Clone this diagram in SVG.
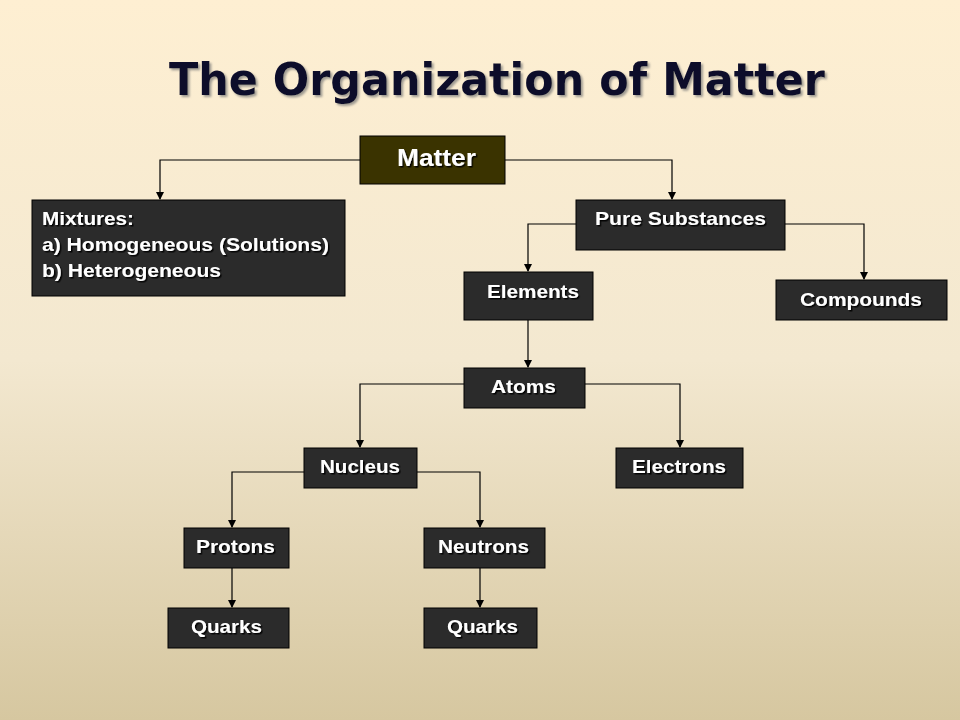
<svg xmlns="http://www.w3.org/2000/svg" width="960" height="720" viewBox="0 0 960 720">
<defs>
<linearGradient id="bg" x1="0" y1="0" x2="0" y2="1">
<stop offset="0" stop-color="#FEEFD2"/>
<stop offset="0.5" stop-color="#F3E8D0"/>
<stop offset="1" stop-color="#D6C7A0"/>
</linearGradient>
<filter id="ts" x="-10%" y="-30%" width="130%" height="170%">
<feDropShadow dx="1.5" dy="1.5" stdDeviation="0.6" flood-color="#000" flood-opacity="0.9"/>
</filter>
<filter id="tts" x="-5%" y="-30%" width="110%" height="170%">
<feDropShadow dx="2" dy="2" stdDeviation="1.2" flood-color="#777" flood-opacity="0.7"/>
</filter>
<marker id="ah" markerWidth="8" markerHeight="8" refX="7" refY="4" orient="auto" markerUnits="userSpaceOnUse">
<path d="M0,0 L8,4 L0,8 z" fill="#000"/>
</marker>
<style>
.box{fill:#2B2B2B;stroke:#000;stroke-width:1}
.lbl{font-family:"Liberation Sans",Arial,sans-serif;font-weight:bold;font-size:19px;fill:#fff;filter:url(#ts)}
.c{fill:none;stroke:#000;stroke-width:1.2;marker-end:url(#ah)}
</style>
</defs>
<rect width="960" height="720" fill="url(#bg)"/>
<text x="497" y="95" text-anchor="middle" font-family="'Comic Sans MS','DejaVu Sans',sans-serif" font-weight="bold" font-size="44" fill="#0B0B2A" textLength="656" lengthAdjust="spacingAndGlyphs" filter="url(#tts)">The Organization of Matter</text>

<g id="connectors">
<path class="c" d="M360,160 H160 V199"/>
<path class="c" d="M505,160 H672 V199"/>
<path class="c" d="M576,224 H528 V271"/>
<path class="c" d="M785,224 H864 V279"/>
<path class="c" d="M528,320 V367"/>
<path class="c" d="M464,384 H360 V447"/>
<path class="c" d="M585,384 H680 V447"/>
<path class="c" d="M304,472 H232 V527"/>
<path class="c" d="M417,472 H480 V527"/>
<path class="c" d="M232,560 V607"/>
<path class="c" d="M480,568 V607"/>
</g>

<g id="matter">
<rect x="360" y="136" width="145" height="48" fill="#3A3300" stroke="#000" stroke-width="1"/>
<text class="lbl" x="436.5" y="166" style="font-size:23px" text-anchor="middle" textLength="79" lengthAdjust="spacingAndGlyphs">Matter</text>
</g>
<g id="mixtures">
<rect class="box" x="32" y="200" width="313" height="96"/>
<text class="lbl" x="42" y="225" textLength="92" lengthAdjust="spacingAndGlyphs">Mixtures:</text>
<text class="lbl" x="42" y="251" textLength="287" lengthAdjust="spacingAndGlyphs">a) Homogeneous (Solutions)</text>
<text class="lbl" x="42" y="277" textLength="179" lengthAdjust="spacingAndGlyphs">b) Heterogeneous</text>
</g>
<g id="pure-substances">
<rect class="box" x="576" y="200" width="209" height="50"/>
<text class="lbl" x="680.5" y="225" text-anchor="middle" textLength="171" lengthAdjust="spacingAndGlyphs">Pure Substances</text>
</g>
<g id="elements">
<rect class="box" x="464" y="272" width="129" height="48"/>
<text class="lbl" x="533" y="298" text-anchor="middle" textLength="92" lengthAdjust="spacingAndGlyphs">Elements</text>
</g>
<g id="compounds">
<rect class="box" x="776" y="280" width="171" height="40"/>
<text class="lbl" x="861" y="306" text-anchor="middle" textLength="122" lengthAdjust="spacingAndGlyphs">Compounds</text>
</g>
<g id="atoms">
<rect class="box" x="464" y="368" width="121" height="40"/>
<text class="lbl" x="523.5" y="393" text-anchor="middle" textLength="65" lengthAdjust="spacingAndGlyphs">Atoms</text>
</g>
<g id="nucleus">
<rect class="box" x="304" y="448" width="113" height="40"/>
<text class="lbl" x="360" y="473" text-anchor="middle" textLength="80" lengthAdjust="spacingAndGlyphs">Nucleus</text>
</g>
<g id="electrons">
<rect class="box" x="616" y="448" width="127" height="40"/>
<text class="lbl" x="679" y="473" text-anchor="middle" textLength="94" lengthAdjust="spacingAndGlyphs">Electrons</text>
</g>
<g id="protons">
<rect class="box" x="184" y="528" width="105" height="40"/>
<text class="lbl" x="235.5" y="553" text-anchor="middle" textLength="79" lengthAdjust="spacingAndGlyphs">Protons</text>
</g>
<g id="neutrons">
<rect class="box" x="424" y="528" width="121" height="40"/>
<text class="lbl" x="483.5" y="553" text-anchor="middle" textLength="91" lengthAdjust="spacingAndGlyphs">Neutrons</text>
</g>
<g id="quarks-1">
<rect class="box" x="168" y="608" width="121" height="40"/>
<text class="lbl" x="226.5" y="633" text-anchor="middle" textLength="71" lengthAdjust="spacingAndGlyphs">Quarks</text>
</g>
<g id="quarks-2">
<rect class="box" x="424" y="608" width="113" height="40"/>
<text class="lbl" x="482.5" y="633" text-anchor="middle" textLength="71" lengthAdjust="spacingAndGlyphs">Quarks</text>
</g>
</svg>
